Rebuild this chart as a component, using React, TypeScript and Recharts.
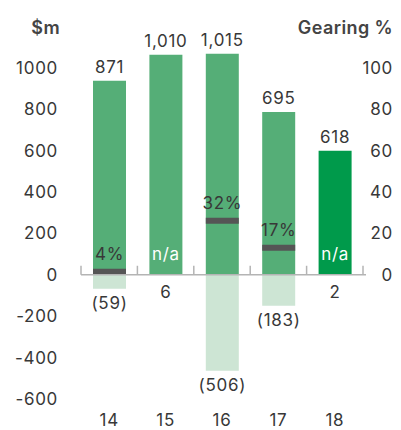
import { ComposedChart, Bar, XAxis, YAxis, ReferenceLine, LabelList, Cell } from 'recharts';

const years = ['14', '15', '16', '17', '18'];
// bar heights as drawn, and the figures printed on them
const grossBars = [937, 1063, 1068, 786, 599];
const grossLabels = ['871', '1,010', '1,015', '695', '618'];
const netBars = [-68, 0, -464, -150, 0];
const netLabels = ['(59)', '6', '(506)', '(183)', '2'];
const gearingLow = [0, 0, 24.6, 11.6, 0];
const gearingHigh = [2.9, 0, 27.5, 14.5, 0];
const gearingLabels = ['4%', 'n/a', '32%', '17%', 'n/a'];
const leftTicks = [-600, -400, -200, 0, 200, 400, 600, 800, 1000];
const rightTicks = [0, 20, 40, 60, 80, 100];

const data = years.map((year, i) => ({
  year,
  gross: grossBars[i],
  grossLabel: grossLabels[i],
  net: netBars[i],
  netLabel: netBars[i] !== 0 ? netLabels[i] : '',
  zeroNetLabel: netBars[i] === 0 ? netLabels[i] : '',
  gearing: [gearingLow[i], gearingHigh[i]],
  gearingLabel: gearingLabels[i] !== 'n/a' ? gearingLabels[i] : '',
  naLabel: gearingLabels[i] === 'n/a' ? gearingLabels[i] : '',
}));

const FONT = 'Inter, "Noto Sans", sans-serif';
const TEXT = '#383838';
const FS = 17;
const LS = 0.7;

const ZeroAxis = (props: any) => {
  const { x1, x2, y1 } = props;
  const step = (x2 - x1) / years.length;
  const ticks = Array.from({ length: years.length + 1 }, (_, i) => x1 + i * step);
  return (
    <g>
      <line x1={x1} x2={x2 + 3} y1={y1} y2={y1} stroke="#b4b4b4" strokeWidth={1.5} />
      {ticks.map((x) => (
        <line key={x} x1={x} x2={x} y1={y1 - 9} y2={y1} stroke="#b4b4b4" strokeWidth={1.5} />
      ))}
    </g>
  );
};

const label = (value: any, x: number, y: number, fill = TEXT) =>
  value ? (
    <text x={x} y={y} textAnchor="middle" fontSize={FS} letterSpacing={LS} fill={fill} fontFamily={FONT}>
      {value}
    </text>
  ) : null;

const grossLabel = (p: any) => label(p.value, p.x + p.width / 2, p.y - 8);
const baseNote = (p: any) => label(p.value, p.x + p.width / 2, p.y + p.height + 23);
const naNote = (p: any) => label(p.value, p.x + p.width / 2, p.y + p.height - 15, '#ffffff');
const netLabel = (p: any) => label(p.value, p.x + p.width / 2, Math.max(p.y, p.y + p.height) + 20);
const gearingLabel = (p: any) => label(p.value, p.x + p.width / 2, Math.min(p.y, p.y + p.height) - 9);

const RightTick = (props: any) => {
  const { x, y, payload } = props;
  return (
    <text x={x + 30} y={y} dy="0.355em" textAnchor="end" fontSize={FS} letterSpacing={LS} fill={TEXT} fontFamily={FONT}>
      {payload.value}
    </text>
  );
};

const LeftTick = (props: any) => {
  const { x, y, payload } = props;
  return (
    <text x={x - 23} y={y} dy="0.355em" textAnchor="end" fontSize={FS} letterSpacing={LS} fill={TEXT} fontFamily={FONT}>
      {payload.value}
    </text>
  );
};

const YearTick = (props: any) => {
  const { x, y, payload } = props;
  return (
    <text x={x} y={y + 27} textAnchor="middle" fontSize={FS} letterSpacing={LS} fill={TEXT} fontFamily={FONT}>
      {payload.value}
    </text>
  );
};

const headStyle = {
  position: 'absolute' as const,
  top: 17,
  lineHeight: '22px',
  fontSize: 18,
  fontWeight: 600,
  letterSpacing: 0.4,
  color: '#444',
  fontFamily: FONT,
};

export default function App() {
  return (
    <div style={{ position: 'absolute', left: 0, top: 0, width: 401, height: 430, background: '#fff' }}>
      <div style={{ ...headStyle, right: 341 }}>$m</div>
      <div style={{ ...headStyle, right: 8 }}>Gearing %</div>
      <ComposedChart width={401} height={430} data={data} margin={{ top: 47, right: 0, bottom: 0, left: 0 }}>
        <XAxis
          xAxisId="main"
          dataKey="year"
          axisLine={false}
          tickLine={false}
          tickSize={0}
          tickMargin={0}
          height={31}
          interval={0}
          tick={YearTick}
        />
        <XAxis xAxisId="neg" dataKey="year" hide height={0} />
        <XAxis xAxisId="gear" dataKey="year" hide height={0} />
        <YAxis
          yAxisId="left"
          width={81}
          domain={[-600, 1100]}
          ticks={leftTicks}
          axisLine={false}
          tickLine={false}
          tickSize={0}
          tickMargin={0}
          interval={0}
          tick={LeftTick}
        />
        <YAxis
          yAxisId="right"
          orientation="right"
          width={38}
          domain={[-60, 110]}
          ticks={rightTicks}
          axisLine={false}
          tickLine={false}
          tickSize={0}
          tickMargin={0}
          interval={0}
          tick={RightTick}
        />
        <Bar xAxisId="neg" yAxisId="left" dataKey="net" fill="#cde5d4" barSize={33} isAnimationActive={false}>
          <LabelList dataKey="netLabel" content={netLabel} />
        </Bar>
        <Bar xAxisId="main" yAxisId="left" dataKey="gross" barSize={33} isAnimationActive={false}>
          {data.map((d, i) => (
            <Cell key={d.year} fill={i === data.length - 1 ? '#009a4b' : '#55ae77'} />
          ))}
          <LabelList dataKey="grossLabel" content={grossLabel} />
          <LabelList dataKey="zeroNetLabel" content={baseNote} />
          <LabelList dataKey="naLabel" content={naNote} />
        </Bar>
        <Bar xAxisId="gear" yAxisId="right" dataKey="gearing" fill="#555555" barSize={33} isAnimationActive={false}>
          <LabelList dataKey="gearingLabel" content={gearingLabel} />
        </Bar>
        <ReferenceLine xAxisId="main" yAxisId="left" y={0} shape={ZeroAxis} />
      </ComposedChart>
    </div>
  );
}
